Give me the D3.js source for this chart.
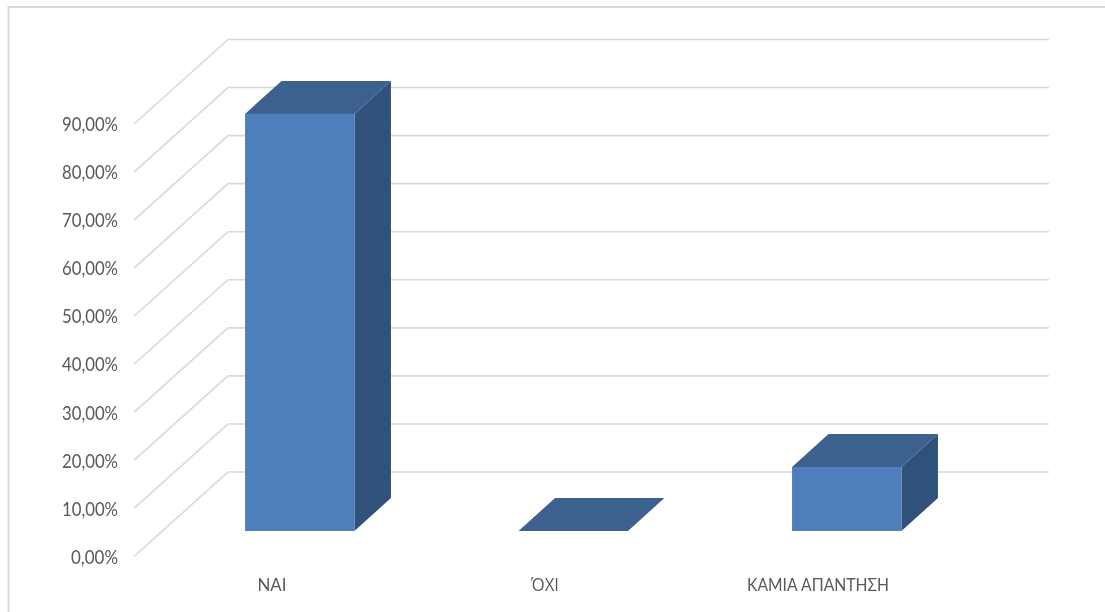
<!DOCTYPE html>
<html><head><meta charset="utf-8">
<script src="https://cdn.jsdelivr.net/npm/d3@7"></script>
<style>
html,body{margin:0;padding:0;background:#fff}
svg{display:block;filter:blur(0.5px)}
text{font-family:Lato,"Open Sans",sans-serif;fill:#595959}
</style></head><body>
<svg id="c" width="1105" height="612"></svg>
<script>
const categories=["ΝΑΙ","ΌΧΙ","ΚΑΜΙΑ ΑΠΑΝΤΗΣΗ"];
const values=[86.9,0,13.33];
const ticks=[0,10,20,30,40,50,60,70,80,90];
const labelWidths=[29,28,142];
const labelFonts=["Lato","Open Sans","Lato"];
const svg=d3.select("#c");
const depth={x:36.5,y:-33};
const wall={x:94,y:-84.5};
const yWall=d3.scaleLinear().domain([0,90]).range([472,39.5]);
const yFront=d3.scaleLinear().domain([0,100]).range([531,51]);
const xBar=d3.scaleBand().domain(categories).range([163,983.5]).paddingInner(0.6).paddingOuter(0.3);
const xLabel=d3.scalePoint().domain(categories).range([272,818]);
svg.append("path").attr("d","M8.5,612V7H1105").attr("fill","none").attr("stroke","#d9d9d9").attr("stroke-width",2);
const grid=svg.append("g").attr("fill","none").attr("stroke","#d9d9d9").attr("stroke-width",1.6);
ticks.forEach(t=>{
  const y=yWall(t);
  grid.append("path").attr("d",`M${228-wall.x},${y-wall.y}L228,${y}H1049`);
});
svg.append("g").selectAll("text").data(ticks).join("text")
  .attr("x",118).attr("y",t=>yWall(t)-wall.y+7.2).attr("text-anchor","end")
  .attr("font-size",19).attr("textLength",t=>t===0?47:56).attr("lengthAdjust","spacingAndGlyphs")
  .text(t=>d3.format(".2f")(t).replace(".",",")+"%");
svg.append("g").selectAll("text").data(categories).join("text")
  .attr("x",c=>xLabel(c)).attr("y",591).attr("text-anchor","middle")
  .style("font-family",(c,i)=>labelFonts[i])
  .attr("font-size",18).attr("textLength",(c,i)=>labelWidths[i]).attr("lengthAdjust","spacingAndGlyphs").text(c=>c);
const bars=svg.append("g").selectAll("g").data(categories.map((c,i)=>({c,v:values[i]}))).join("g");
bars.append("path").attr("fill","#30517a").attr("d",d=>{
  const x=xBar(d.c)+xBar.bandwidth(),t=yFront(d.v),b=yFront(0);
  return `M${x},${t}l${depth.x},${depth.y}V${b+depth.y}L${x},${b}Z`;
});
bars.append("path").attr("fill","#3d618f").attr("d",d=>{
  const x=xBar(d.c),w=xBar.bandwidth(),t=yFront(d.v);
  return `M${x},${t}l${depth.x},${depth.y}h${w}l${-depth.x},${-depth.y}Z`;
});
bars.filter(d=>d.v>0).append("rect").attr("fill","#4e7fbc")
  .attr("x",d=>xBar(d.c)).attr("width",xBar.bandwidth())
  .attr("y",d=>yFront(d.v)).attr("height",d=>yFront(0)-yFront(d.v));
</script></body></html>
